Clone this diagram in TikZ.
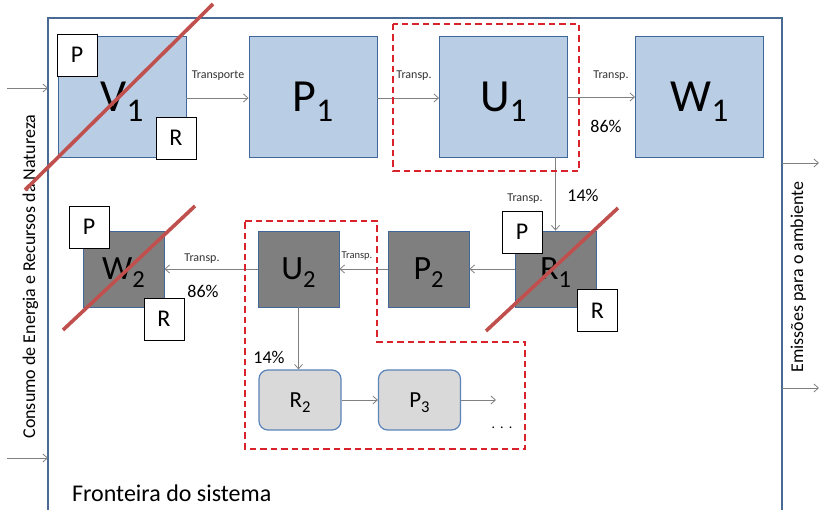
\documentclass[tikz,border=0pt]{standalone}
\usepackage{fontspec}
\setmainfont{Carlito}
\usepackage{graphicx}
\usetikzlibrary{arrows.meta}

\definecolor{stageblue}{HTML}{B9CDE5}
\definecolor{stageedge}{HTML}{41679A}
\definecolor{stagegray}{HTML}{7F7F7F}
\definecolor{softgray}{HTML}{D9D9D9}
\definecolor{softedge}{HTML}{5B84BA}
\definecolor{flowgray}{HTML}{808080}
\definecolor{regionred}{HTML}{D9232B}
\definecolor{strikered}{HTML}{C0504D}
\definecolor{frameblue}{HTML}{4A6A96}

% subscript lowered below the baseline, as in the stage names
\newcommand{\lowidx}[1]{\raisebox{-0.22em}{\scalebox{0.72}{#1}}}

\begin{document}
\begin{tikzpicture}[x=1pt,y=-1pt,
  bigstage/.style={draw=stageedge, line width=0.9pt, fill=stageblue,
    minimum width=128pt, minimum height=121pt, inner sep=0pt,
    font=\fontsize{46}{50}\selectfont, text height=29.6pt, text depth=0pt},
  darkstage/.style={draw=stageedge, line width=0.9pt, fill=stagegray,
    minimum width=81pt, minimum height=76pt, inner sep=0pt,
    font=\fontsize{34}{38}\selectfont, text height=21.9pt, text depth=0pt},
  softstage/.style={draw=softedge, line width=1.2pt, fill=softgray,
    rounded corners=9pt,
    minimum width=82pt, minimum height=60pt, inner sep=0pt,
    font=\fontsize{23}{26}\selectfont, text height=14.8pt, text depth=0pt},
  tag/.style={draw=black, line width=0.6pt, fill=white,
    minimum width=40pt, minimum height=42pt, inner sep=0pt,
    font=\fontsize{24}{28}\selectfont, text height=15.5pt, text depth=0pt},
  flow/.style={draw=flowgray, line width=0.8pt,
    -{Straight Barb[length=4.5pt,width=8pt]}},
  smalltxt/.style={font=\fontsize{12}{14}\selectfont, text=black!80, inner sep=0pt},
  pcttxt/.style={font=\fontsize{18}{20}\selectfont, inner sep=0pt},
  region/.style={draw=regionred, line width=2pt, dash pattern=on 6.5pt off 4pt},
  strike/.style={draw=strikered, line width=3.6pt},
  sidetxt/.style={rotate=90, anchor=base, inner sep=0pt, font=\fontsize{18}{20}\selectfont},
]
\useasboundingbox (0,0) rectangle (820,510);
\fill[white] (0,0) rectangle (820,510);

% system boundary (open at the bottom edge)
\draw[frameblue, line width=1.4pt] (48,515) -- (48,18) -- (782,18) -- (782,515);

% inputs and outputs through the boundary
\coordinate (inA) at (7,88);   \coordinate (inAend) at (48,88);
\coordinate (inB) at (7,458);  \coordinate (inBend) at (48,458);
\coordinate (outA) at (782,163); \coordinate (outAend) at (819,163);
\coordinate (outB) at (782,388); \coordinate (outBend) at (819,388);
\draw[flow] (inA) -- (inAend);
\draw[flow] (inB) -- (inBend);
\draw[flow] (outA) -- (outAend);
\draw[flow] (outB) -- (outBend);

\node[sidetxt] (consumo) at (35,276.5) {Consumo de Energia e Recursos da Natureza};
\node[sidetxt] (emissoes) at (803,277) {Emissões para o ambiente};

% first life cycle
\node[bigstage] (V1) at (122,96.5)   {V\lowidx{1}};
\node[bigstage] (P1) at (313,96.5)   {P\lowidx{1}};
\node[bigstage] (U1) at (503.5,96.5) {U\lowidx{1}};
\node[bigstage] (W1) at (699.5,96.5) {W\lowidx{1}};

% second life cycle
\node[darkstage] (R1) at (555.5,269) {R\lowidx{1}};
\node[darkstage] (P2) at (428.5,269) {P\lowidx{2}};
\node[darkstage] (U2) at (298.5,269) {U\lowidx{2}};
\node[darkstage] (W2) at (123.5,269) {W\lowidx{2}};

% third cycle
\node[softstage] (R2) at (300,400)   {R\lowidx{2}};
\node[softstage] (P3) at (419.5,400) {P\lowidx{3}};
\coordinate (cont) at (496,400);

% flows
\draw[flow] (V1.east |- 0,98) -- (P1.west |- 0,98);
\draw[flow] (P1.east |- 0,98) -- (U1.west |- 0,98);
\draw[flow] (U1.east |- 0,97) -- (W1.west |- 0,97);
\draw[flow] (R1.north |- U1.south) -- (R1.north);
\draw[flow] (R1) -- (P2);
\draw[flow] (P2) -- (U2);
\draw[flow] (U2) -- (W2);
\draw[flow] (U2.south) -- (U2.south |- R2.north);
\draw[flow] (R2) -- (P3);
\draw[flow] (P3) -- (cont);

% flow labels
\node[smalltxt] (t1) at (218,76) {Transporte};
\node[smalltxt] (t2) at (414,76) {Transp.};
\node[smalltxt] (t3) at (611,76) {Transp.};
\node[pcttxt]   (p1) at (606,126) {86\%};
\node[smalltxt] (t4) at (525,199) {Transp.};
\node[pcttxt]   (p2) at (583,195) {14\%};
\node[smalltxt, font=\fontsize{10.5}{12}\selectfont] (t5) at (357,256) {Transp.};
\node[smalltxt] (t6) at (202,259) {Transp.};
\node[pcttxt]   (p3) at (203,291) {86\%};
\node[pcttxt]   (p4) at (269,357) {14\%};
\node[font=\fontsize{14}{16}\selectfont, inner sep=0pt] (dots) at (502,428) {.\hspace{5pt}.\hspace{5pt}.};

% regions that are reconsidered
\draw[region] (393,24) rectangle (579,171);
\draw[region] (245,221) -- (377,221) -- (377,342) -- (525,342) -- (525,449) -- (245,449) -- cycle;

% production and recycling tags
\node[tag] (V1p) at (77,55)      {P};
\node[tag] (V1r) at (176,138)    {R};
\node[tag] (R1p) at (522,232)    {P};
\node[tag] (R1r) at (597.5,310.5){R};
\node[tag] (W2p) at (89,227)     {P};
\node[tag] (W2r) at (164,319)    {R};

% struck-out stages
\draw[strike] (25,190) -- (213,4);
\draw[strike] (486,331) -- (618,208);
\draw[strike] (63,330) -- (195,206);

\node[anchor=base west, font=\fontsize{24}{28}\selectfont, inner sep=0pt] (fronteira) at (72,502) {Fronteira do sistema};
\end{tikzpicture}
\end{document}
